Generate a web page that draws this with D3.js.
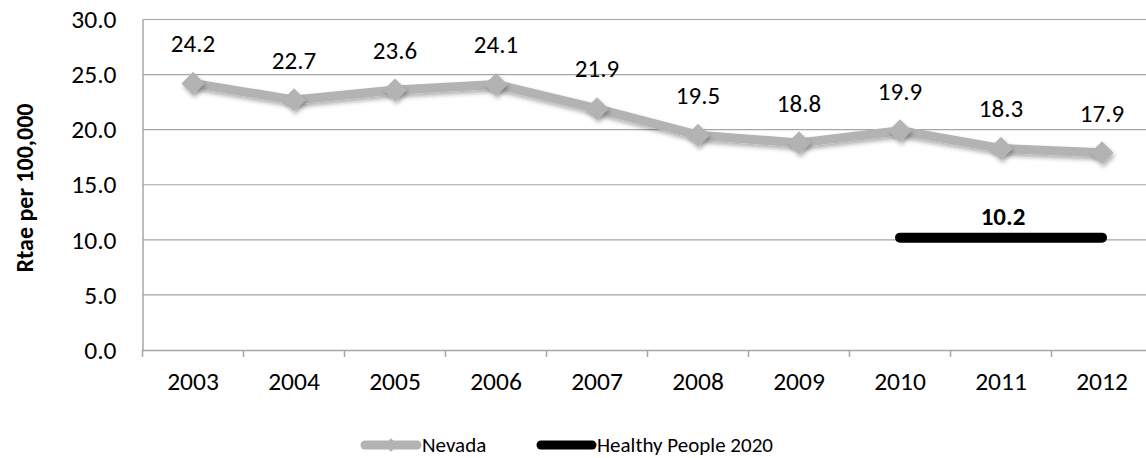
<!DOCTYPE html>
<html><head><meta charset="utf-8">
<script src="https://cdn.jsdelivr.net/npm/d3@7"></script>
<style>
html,body{margin:0;padding:0;background:#fff;}
text{font-family:Carlito,"Open Sans",sans-serif;fill:#000;}
</style></head>
<body><svg id="c" width="1146" height="458"></svg>
<script>
const years = ["2003","2004","2005","2006","2007","2008","2009","2010","2011","2012"];
const nevada = [24.2,22.7,23.6,24.1,21.9,19.5,18.8,19.9,18.3,17.9];
const hpYears = ["2010","2011","2012"];
const hpValues = [10.2,10.2,10.2];
const yTicks = [0,5,10,15,20,25,30];

(function(){
const svg = d3.select("#c");
const mLeft = 142.5, mTop = 19.5, mBottom = 350, band = 101;
const x = d3.scaleBand().domain(years).range([mLeft, mLeft + band*years.length]);
const y = d3.scaleLinear().domain([0,30]).range([mBottom, mTop]);
const cx = d => x(d) + x.bandwidth()/2;
const FONT = 'Carlito,"Open Sans",sans-serif';

const defs = svg.append("defs");
const f = defs.append("filter").attr("id","sh").attr("x","-50%").attr("y","-50%").attr("width","200%").attr("height","200%");
f.append("feDropShadow").attr("dx",1.5).attr("dy",3).attr("stdDeviation",2).attr("flood-color","#000").attr("flood-opacity",0.3);

// gridlines
svg.append("g").selectAll("line").data(yTicks.filter(t=>t>0)).join("line")
  .attr("x1", mLeft).attr("x2", 1146).attr("y1", d=>y(d)).attr("y2", d=>y(d))
  .attr("stroke","#a6a6a6").attr("stroke-width",1.2);

// y axis
const ya = svg.append("g").attr("transform",`translate(${mLeft},0)`)
  .call(d3.axisLeft(y).tickValues(yTicks).tickFormat(d3.format(".1f")).tickSize(0).tickPadding(26));
ya.select(".domain").attr("stroke","#a6a6a6").attr("stroke-width",1.5);
ya.selectAll("text").style("font-size","25.5px").style("font-family",FONT).attr("fill","#000");

// x axis
const xa = svg.append("g").attr("transform",`translate(0,${mBottom})`)
  .call(d3.axisBottom(x).tickSize(0).tickPadding(22));
xa.select(".domain").attr("stroke","#a6a6a6").attr("stroke-width",1.5);
xa.selectAll("text").style("font-size","25.5px").style("font-family",FONT).attr("fill","#000");
svg.append("g").selectAll("line").data(years).join("line")
  .attr("x1", d=>x(d)).attr("x2", d=>x(d)).attr("y1", mBottom).attr("y2", mBottom+7)
  .attr("stroke","#a6a6a6").attr("stroke-width",1.5);

// Nevada line
const line = d3.line().x((d,i)=>cx(years[i])).y(d=>y(d));
svg.append("path").datum(nevada).attr("d", line)
  .attr("fill","none").attr("stroke","#b3b3b3").attr("stroke-width",9).attr("stroke-linejoin","round")
  .attr("filter","url(#sh)");
const diamond = d3.symbol().type(d3.symbolDiamond2).size(340);
svg.append("g").selectAll("path").data(nevada).join("path")
  .attr("d", diamond()).attr("transform",(d,i)=>`translate(${cx(years[i])},${y(d)})`)
  .attr("fill","#b3b3b3").attr("filter","url(#sh)");
svg.append("g").selectAll("text").data(nevada).join("text")
  .attr("x",(d,i)=>cx(years[i])).attr("y", d=>y(d)-40).attr("dy","0.35em")
  .attr("text-anchor","middle").style("font-size","25px").text(d=>d.toFixed(1));

// Healthy People 2020
const hpLine = d3.line().x((d,i)=>cx(hpYears[i])).y(d=>y(d));
svg.append("path").datum(hpValues).attr("d", hpLine)
  .attr("fill","none").attr("stroke","#000").attr("stroke-width",10).attr("stroke-linecap","round");
svg.append("text").attr("x", cx(hpYears[1])+2).attr("y", y(hpValues[1])-21).attr("dy","0.35em")
  .attr("text-anchor","middle").style("font-size","25px").style("font-weight","bold").text(hpValues[1].toFixed(1));

// axis title
svg.append("text").attr("transform","translate(25,188) rotate(-90)").attr("text-anchor","middle")
  .attr("dy","0.35em").style("font-size","24px").style("font-weight","bold").text("Rtae per 100,000");

// legend
const lg = svg.append("g");
lg.append("line").attr("x1",365).attr("x2",417).attr("y1",445).attr("y2",445)
  .attr("stroke","#b3b3b3").attr("stroke-width",9).attr("stroke-linecap","round");
lg.append("path").attr("d", d3.symbol().type(d3.symbolDiamond2).size(120)())
  .attr("transform","translate(391,445)").attr("fill","#b3b3b3");
lg.append("text").attr("x",422).attr("y",445).attr("dy","0.35em").style("font-size","21px").text("Nevada");
lg.append("line").attr("x1",541).attr("x2",592).attr("y1",445).attr("y2",445)
  .attr("stroke","#000").attr("stroke-width",9).attr("stroke-linecap","round");
lg.append("text").attr("x",597).attr("y",445).attr("dy","0.35em").style("font-size","21px").text("Healthy People 2020");
})();
</script></body></html>
